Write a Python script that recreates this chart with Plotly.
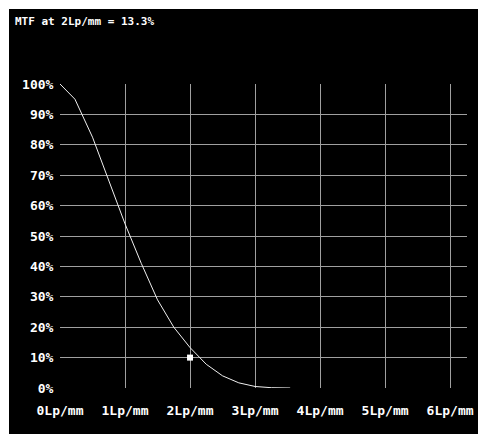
import plotly.graph_objects as go

# MTF curve
freq = [0, 0.23, 0.5, 0.75, 1.0, 1.25, 1.5, 1.75, 2.0, 2.25, 2.5, 2.75, 3.0, 3.25, 3.54]
mtf = [100, 95, 82.5, 68, 54, 41, 29, 20, 13.3, 7.8, 4.0, 1.7, 0.5, 0.1, 0]
marker_x = [2]
marker_y = [10]
x_ticks = [0, 1, 2, 3, 4, 5, 6]
x_labels = ["0Lp/mm", "1Lp/mm", "2Lp/mm", "3Lp/mm", "4Lp/mm", "5Lp/mm", "6Lp/mm"]
y_ticks = [0, 10, 20, 30, 40, 50, 60, 70, 80, 90, 100]
y_labels = [f"{v}%" for v in y_ticks]
title_text = "MTF at 2Lp/mm = 13.3%"

W, H = 478, 434
L, R, T, B = 60, 11, 84, 46
pw, ph = W - L - R, H - T - B

def px(x):
    return (x - L) / pw

def py(y):
    return (H - B - y) / ph

FONT = "DejaVu Sans Mono"

fig = go.Figure()
fig.add_trace(go.Scatter(x=freq, y=mtf, mode="lines",
                         line=dict(color="#f0f0f0", width=1), hoverinfo="skip"))
fig.add_trace(go.Scatter(x=marker_x, y=marker_y, mode="markers",
                         marker=dict(symbol="square", size=6, color="white"), hoverinfo="skip"))

fig.add_shape(type="rect", xref="paper", yref="paper",
              x0=px(9), x1=px(W + 2), y0=py(H + 2), y1=py(9),
              fillcolor="black", line=dict(width=0), layer="below")

fig.add_annotation(text=title_text, xref="paper", yref="paper",
                   x=px(13), y=py(21), xanchor="left", yanchor="middle",
                   showarrow=False, font=dict(family=FONT, size=11, color="white", weight="bold"))

fig.update_layout(
    width=W, height=H,
    autosize=False,
    margin=dict(l=L, r=R, t=T, b=B),
    paper_bgcolor="white",
    plot_bgcolor="black",
    showlegend=False,
    xaxis=dict(range=[0, 6.26], tickvals=x_ticks, ticktext=x_labels,
               showgrid=True, gridcolor="#a0a0a0", gridwidth=1,
               zeroline=False, showline=False, automargin=False,
               ticks="outside", ticklen=10, tickcolor="rgba(0,0,0,0)",
               tickfont=dict(family=FONT, size=13, color="white", weight="bold"),
               fixedrange=True),
    yaxis=dict(range=[0, 100], tickvals=y_ticks, ticktext=y_labels,
               showgrid=True, gridcolor="#a0a0a0", gridwidth=1,
               zeroline=False, showline=False, automargin=False,
               ticks="outside", ticklen=3, tickcolor="rgba(0,0,0,0)",
               tickfont=dict(family=FONT, size=13, color="white", weight="bold"),
               fixedrange=True),
)

fig.write_html("out.html", config={"responsive": False})
